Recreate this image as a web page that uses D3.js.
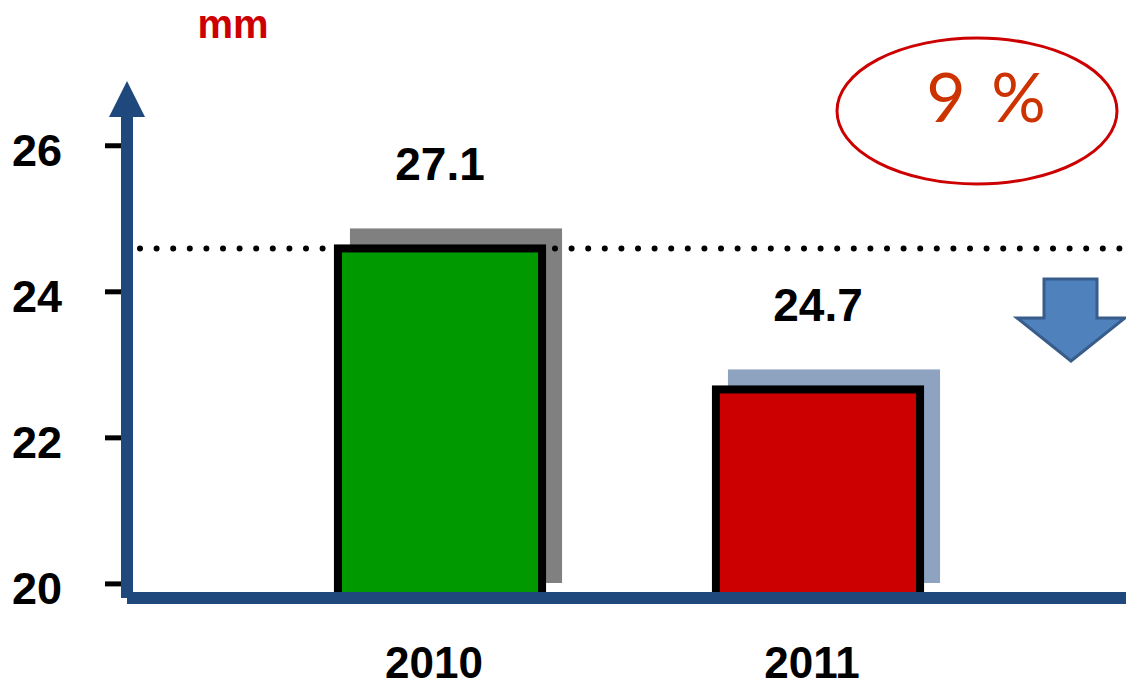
<!DOCTYPE html>
<html>
<head>
<meta charset="utf-8">
<script src="https://cdn.jsdelivr.net/npm/d3@7"></script>
<style>
  html, body { margin: 0; padding: 0; background: #fff; }
  svg { display: block; font-family: "Liberation Sans", Arial, sans-serif; }
</style>
</head>
<body>
<svg id="chart" width="1126" height="689"></svg>
<script>
// ---- data ----
const years = ["2010", "2011"];
const thickness = [27.1, 24.7];          // mm
const axisTicks = [20, 22, 24, 26];
const unitLabel = "mm";
const changeLabel = "9 %";

// ---- styling ----
const barFill   = { "2010": "#009900", "2011": "#CC0000" };
const shadowFill = { "2010": "#808080", "2011": "#8DA3BF" };
const axisBlue = "#1F497D";

const W = 1126, H = 689;
const plotTop = 81, baseY = 598, axisX = 121;

const svg = d3.select("#chart");

// categorical x positions
const x = d3.scaleBand()
  .domain(years)
  .range([251, 1007])
  .paddingInner(0.46)
  .paddingOuter(0.23);

// scale used for the labelled ticks on the left
const yAxisScale = d3.scaleLinear().domain([19.8, 26.88]).range([baseY, plotTop]);
// scale the bars are drawn with
const yBar = d3.scaleLinear().domain([21.15, 29.95]).range([baseY, plotTop]);

const data = years.map((y, i) => ({ year: y, value: thickness[i] }));
const strokeW = 8, shadowOff = 16, barBottom = 596;

// drop shadows
svg.append("g").selectAll("rect").data(data).join("rect")
  .attr("x", d => x(d.year) - strokeW / 2 + shadowOff)
  .attr("y", d => yBar(d.value) - strokeW / 2 - shadowOff)
  .attr("width", x.bandwidth() + strokeW)
  .attr("height", d => (barBottom - 13) - (yBar(d.value) - strokeW / 2 - shadowOff))
  .attr("fill", d => shadowFill[d.year]);

// bars
svg.append("g").selectAll("rect").data(data).join("rect")
  .attr("x", d => x(d.year))
  .attr("y", d => yBar(d.value))
  .attr("width", x.bandwidth())
  .attr("height", d => barBottom - yBar(d.value))
  .attr("fill", d => barFill[d.year])
  .attr("stroke", "#000")
  .attr("stroke-width", strokeW);

// dotted reference line at the 2010 level
svg.append("line")
  .attr("x1", 140).attr("x2", W)
  .attr("y1", yBar(thickness[0])).attr("y2", yBar(thickness[0]))
  .attr("stroke", "#000")
  .attr("stroke-width", 6)
  .attr("stroke-linecap", "round")
  .attr("stroke-dasharray", "0 16.6");

// y ticks and labels
const yAxis = d3.axisLeft(yAxisScale)
  .tickValues(axisTicks)
  .tickSize(16)
  .tickPadding(43)
  .tickFormat(d3.format("d"));
const gy = svg.append("g").attr("transform", `translate(${axisX},0)`).call(yAxis);
gy.select(".domain").remove();
gy.selectAll(".tick line").attr("stroke", "#000").attr("stroke-width", 5);
gy.selectAll(".tick text")
  .attr("fill", "#000")
  .attr("dy", "0.45em")
  .attr("font-size", 45)
  .attr("font-weight", "bold")
  .attr("font-family", "'Liberation Sans', Arial, sans-serif");

// thick axis lines with arrow head
svg.append("rect")
  .attr("x", axisX + 6).attr("y", baseY - 6)
  .attr("width", W - axisX - 6).attr("height", 12)
  .attr("fill", axisBlue);
svg.append("rect")
  .attr("x", axisX).attr("y", plotTop + 30)
  .attr("width", 12).attr("height", baseY - plotTop - 30)
  .attr("fill", axisBlue);
svg.append("path")
  .attr("d", `M${axisX + 6 - 18},${plotTop + 36} L${axisX + 6},${plotTop} L${axisX + 6 + 18},${plotTop + 36} Z`)
  .attr("fill", axisBlue);

// value labels
svg.append("g").selectAll("text").data(data).join("text")
  .attr("x", d => x(d.year) + x.bandwidth() / 2)
  .attr("y", d => yBar(d.value) - 68)
  .attr("text-anchor", "middle")
  .attr("font-size", 46)
  .attr("font-weight", "bold")
  .attr("fill", "#000")
  .text(d => d3.format(".1f")(d.value));

// year labels
svg.append("g").selectAll("text").data(data).join("text")
  .attr("x", d => x(d.year) + x.bandwidth() / 2 - 6)
  .attr("y", 678)
  .attr("text-anchor", "middle")
  .attr("font-size", 44)
  .attr("font-weight", "bold")
  .attr("fill", "#000")
  .text(d => d.year);

// unit
svg.append("text")
  .attr("x", 233).attr("y", 38)
  .attr("text-anchor", "middle")
  .attr("font-size", 40)
  .attr("font-weight", "bold")
  .attr("fill", "#CC0000")
  .text(unitLabel);

// change badge
svg.append("ellipse")
  .attr("cx", 977).attr("cy", 111)
  .attr("rx", 140).attr("ry", 73)
  .attr("fill", "none")
  .attr("stroke", "#CC0000")
  .attr("stroke-width", 3);
svg.append("text")
  .attr("x", 986).attr("y", 122)
  .attr("text-anchor", "middle")
  .attr("font-family", "Lato, 'Open Sans', sans-serif")
  .attr("font-weight", 400)
  .attr("font-size", 68)
  .attr("word-spacing", 8)
  .attr("fill", "#CC3300")
  .text(changeLabel);

// down arrow
const arrowPts = [[1044, 279], [1097, 279], [1097, 318], [1125, 318], [1071, 361], [1017, 318], [1044, 318]];
svg.append("path")
  .attr("d", d3.line()(arrowPts) + "Z")
  .attr("fill", "#4F81BD")
  .attr("stroke", "#385D8A")
  .attr("stroke-width", 3)
  .attr("stroke-linejoin", "miter");
</script>
</body>
</html>
